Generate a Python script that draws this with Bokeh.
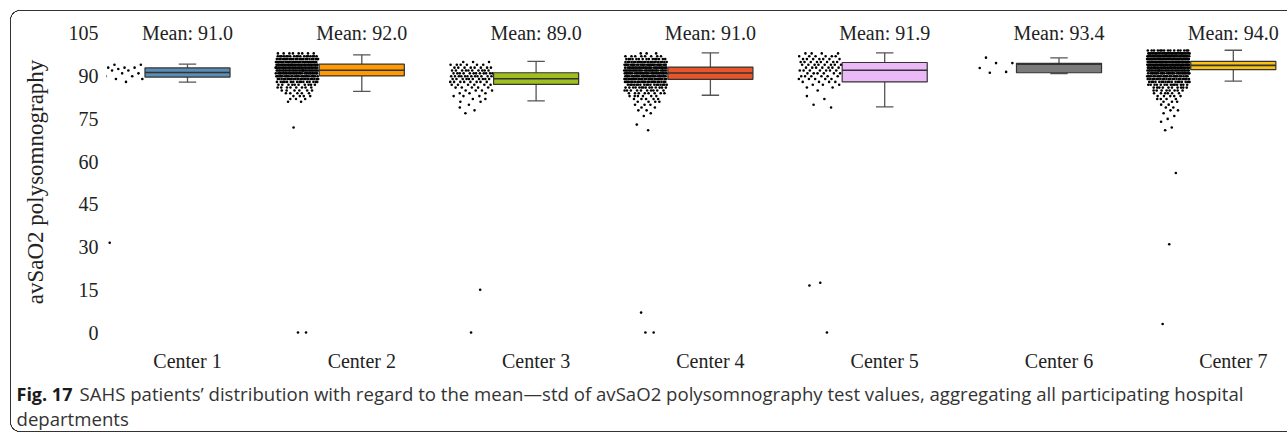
from bokeh.plotting import figure
from bokeh.models import FixedTicker, Label, ColumnDataSource, Column
from bokeh.embed import file_html
from bokeh.resources import INLINE
from bokeh.core.properties import value

# ---------------- data ----------------
centers = ["Center 1", "Center 2", "Center 3", "Center 4", "Center 5", "Center 6", "Center 7"]
means = [91.0, 92.0, 89.0, 91.0, 91.9, 93.4, 94.0]
q1 = [89.7, 90.1, 87.1, 88.9, 88.0, 91.2, 92.3]
medians = [91.3, 92.1, 89.1, 91.1, 92.1, 94.2, 93.8]
q3 = [92.9, 94.2, 91.2, 93.2, 94.8, 94.5, 95.2]
whisker_lo = [87.9, 84.7, 81.3, 83.3, 79.2, 90.9, 88.3]
whisker_hi = [94.2, 97.5, 95.2, 98.2, 98.2, 96.4, 99.1]
box_colors = ["#5b8db5", "#ff9a00", "#9fbf1f", "#e8552a", "#ebb9f7", "#7a7a7a", "#f9c112"]
y_ticks = [0, 15, 30, 45, 60, 75, 90, 105]

# individual patients: observed levels and how many patients sit at each level
c1_levels = [94, 93, 92.5, 92, 91, 90, 89, 88, 31.5]
c1_counts = [2, 3, 1, 3, 2, 2, 2, 1, 1]
c2_levels = [98, 97, 96, 95, 94, 93, 92, 91, 90, 89, 88, 87, 86, 85, 84, 83, 82, 81, 72, 0]
c2_counts = [8, 18, 25, 30, 35, 35, 35, 32, 28, 22, 16, 10, 8, 6, 5, 4, 3, 2, 1, 2]
c3_levels = [95, 94, 93, 92, 91, 90, 89, 88, 87, 86, 85, 84, 83, 82, 81, 80, 79, 78, 77, 15, 0]
c3_counts = [3, 6, 8, 10, 12, 12, 10, 8, 6, 5, 4, 3, 3, 2, 2, 1, 1, 1, 1, 1, 1]
c4_levels = [98, 97, 96, 95, 94, 93, 92, 91, 90, 89, 88, 87, 86, 85, 84, 83, 82, 81, 80, 79,
             78, 77, 76, 73, 71, 7, 0]
c4_counts = [3, 8, 15, 22, 28, 32, 32, 32, 30, 28, 24, 18, 14, 10, 8, 6, 5, 4, 3, 2,
             2, 1, 1, 1, 1, 1, 2]
c5_levels = [98, 97, 96, 95, 94, 93, 92, 91, 90, 89, 88, 87, 86, 85, 83, 82, 80, 79, 17.5, 16.5, 0]
c5_counts = [4, 6, 7, 8, 8, 7, 7, 6, 6, 5, 4, 3, 2, 1, 1, 1, 1, 1, 1, 1, 1]
c6_levels = [96.5, 94.6, 92.9, 91.5, 91.2]
c6_counts = [1, 2, 1, 1, 1]
c7_levels = [99, 98, 97, 96, 95, 94, 93, 92, 91, 90, 89, 88, 87, 86, 85, 84, 83, 82, 81, 80,
             79, 78, 77, 76, 75, 74, 72, 71, 56, 31, 3]
c7_counts = [15, 40, 45, 45, 45, 45, 40, 35, 30, 25, 22, 18, 14, 10, 8, 6, 5, 4, 3, 2,
             2, 2, 1, 1, 1, 1, 1, 1, 1, 1, 1]

levels_all = [c1_levels, c2_levels, c3_levels, c4_levels, c5_levels, c6_levels, c7_levels]
counts_all = [c1_counts, c2_counts, c3_counts, c4_counts, c5_counts, c6_counts, c7_counts]

caption_bold = "Fig. 17"
caption_line1 = ("SAHS patients\u2019 distribution with regard to the mean\u2014std of avSaO2 "
                 "polysomnography test values, aggregating all participating hospital")
caption_line2 = "departments"

# ---------------- layout constants ----------------
W, H_MAIN, H_CAP = 1287, 374, 60
BOX_W = 0.488
STRIP_W = 0.245
xpos = list(range(len(centers)))

p = figure(width=W, height=H_MAIN, output_backend="svg", toolbar_location=None,
           x_range=(-0.4647, 6.2937), y_range=(-3.85, 109.55),
           min_border_left=106, min_border_right=3, min_border_top=20, min_border_bottom=30)
p.frame_align = False
p.background_fill_alpha = 0
p.border_fill_alpha = 0
p.outline_line_color = None
p.xgrid.visible = False
p.ygrid.visible = False

# ---------------- jittered patient points (strip left of each box) ----------------
px, py = [], []
for g, (lv, ct) in enumerate(zip(levels_all, counts_all)):
    k = 0
    maxc = max(ct)
    strip_mid = g - BOX_W / 2 - 0.006 - STRIP_W / 2
    for v, c in zip(lv, ct):
        spread = STRIP_W * min(1.0, 0.35 + c / (0.4 * maxc))
        for _ in range(c):
            frac = (k * 0.6180339887 + 0.31) % 1.0
            px.append(strip_mid + (frac - 0.5) * spread)
            py.append(v)
            k += 1
p.scatter(px, py, size=2.6, color="black", line_width=0)

# ---------------- boxes ----------------
src = ColumnDataSource(dict(
    x=xpos, q1=q1, q3=q3, med=medians, lo=whisker_lo, hi=whisker_hi, color=box_colors,
    left=[x - BOX_W / 2 for x in xpos], right=[x + BOX_W / 2 for x in xpos],
    cl=[x - 0.05 for x in xpos], cr=[x + 0.05 for x in xpos],
    label=["Mean: %.1f" % m for m in means], ty=[105] * len(xpos)))

p.segment(x0="x", y0="q3", x1="x", y1="hi", source=src, line_color="#555555", line_width=1.3)
p.segment(x0="x", y0="q1", x1="x", y1="lo", source=src, line_color="#555555", line_width=1.3)
p.segment(x0="cl", y0="hi", x1="cr", y1="hi", source=src, line_color="#555555", line_width=1.3)
p.segment(x0="cl", y0="lo", x1="cr", y1="lo", source=src, line_color="#555555", line_width=1.3)
p.vbar(x="x", width=BOX_W, bottom="q1", top="q3", source=src, fill_color="color",
       line_color="#333333", line_width=1.2)
p.segment(x0="left", y0="med", x1="right", y1="med", source=src, line_color="#333333", line_width=1.6)

p.text(x="x", y="ty", text="label", source=src, text_font=value("Liberation Serif"),
       text_font_size="20px", text_align="center", text_baseline="middle", text_color="#222222")

# ---------------- axes ----------------
p.xaxis.ticker = FixedTicker(ticks=xpos)
p.xaxis.major_label_overrides = {i: c for i, c in enumerate(centers)}
p.yaxis.ticker = FixedTicker(ticks=y_ticks)
for ax in (p.xaxis, p.yaxis):
    ax.axis_line_color = None
    ax.major_tick_line_color = None
    ax.minor_tick_line_color = None
    ax.major_tick_out = 0
    ax.major_tick_in = 0
    ax.minor_tick_out = 0
    ax.major_label_text_font = "Liberation Serif"
    ax.major_label_text_font_size = "20px"
    ax.major_label_text_color = "#222222"
p.xaxis.major_label_standoff = 6
p.yaxis.major_label_standoff = 8
p.yaxis.axis_label = "avSaO2 polysomnography"
p.yaxis.axis_label_text_font = "Liberation Serif"
p.yaxis.axis_label_text_font_size = "23px"
p.yaxis.axis_label_text_font_style = "normal"
p.yaxis.axis_label_text_color = "#222222"
p.yaxis.axis_label_standoff = 18

# ---------------- caption strip ----------------
cap = figure(width=W, height=H_CAP, output_backend="svg", toolbar_location=None,
             x_range=(0, 1), y_range=(0, 1), x_axis_location=None, y_axis_location=None,
             min_border_left=0, min_border_right=0, min_border_top=0, min_border_bottom=0)
cap.frame_align = False
cap.background_fill_alpha = 0
cap.border_fill_alpha = 0
cap.outline_line_color = None
cap.xgrid.visible = False
cap.ygrid.visible = False

cap.add_layout(Label(x=16, y=41, x_units="screen", y_units="screen", text=caption_bold,
                     text_font="Open Sans", text_font_style="bold", text_font_size="18px",
                     text_color="#1a1a1a", text_baseline="middle"))
cap.add_layout(Label(x=79, y=41, x_units="screen", y_units="screen", text=caption_line1,
                     text_font="Open Sans", text_font_size="18.6px", text_color="#333333",
                     text_baseline="middle"))
cap.add_layout(Label(x=16, y=16, x_units="screen", y_units="screen", text=caption_line2,
                     text_font="Open Sans", text_font_size="18.6px", text_color="#333333",
                     text_baseline="middle"))

# ---------------- rounded figure frame (top, left and bottom edges) ----------------
ring = "transparent 8.8px, #333 9.1px, #333 9.9px, transparent 10.2px"
frame_styles = {
    "background-image": ", ".join([
        "radial-gradient(circle at 10px 10px, %s)" % ring,
        "radial-gradient(circle at 10px 0px, %s)" % ring,
        "linear-gradient(#333, #333)",
        "linear-gradient(#333, #333)",
        "linear-gradient(#333, #333)",
    ]),
    "background-size": "10px 10px, 10px 10px, 1300px 1px, 1px 402px, 1300px 1px",
    "background-position": "10px 10px, 10px 422px, 20px 10px, 10px 20px, 20px 431px",
    "background-repeat": "no-repeat",
}

layout = Column(children=[p, cap], spacing=0, styles=frame_styles)

open("out.html", "w").write(file_html(layout, INLINE))
